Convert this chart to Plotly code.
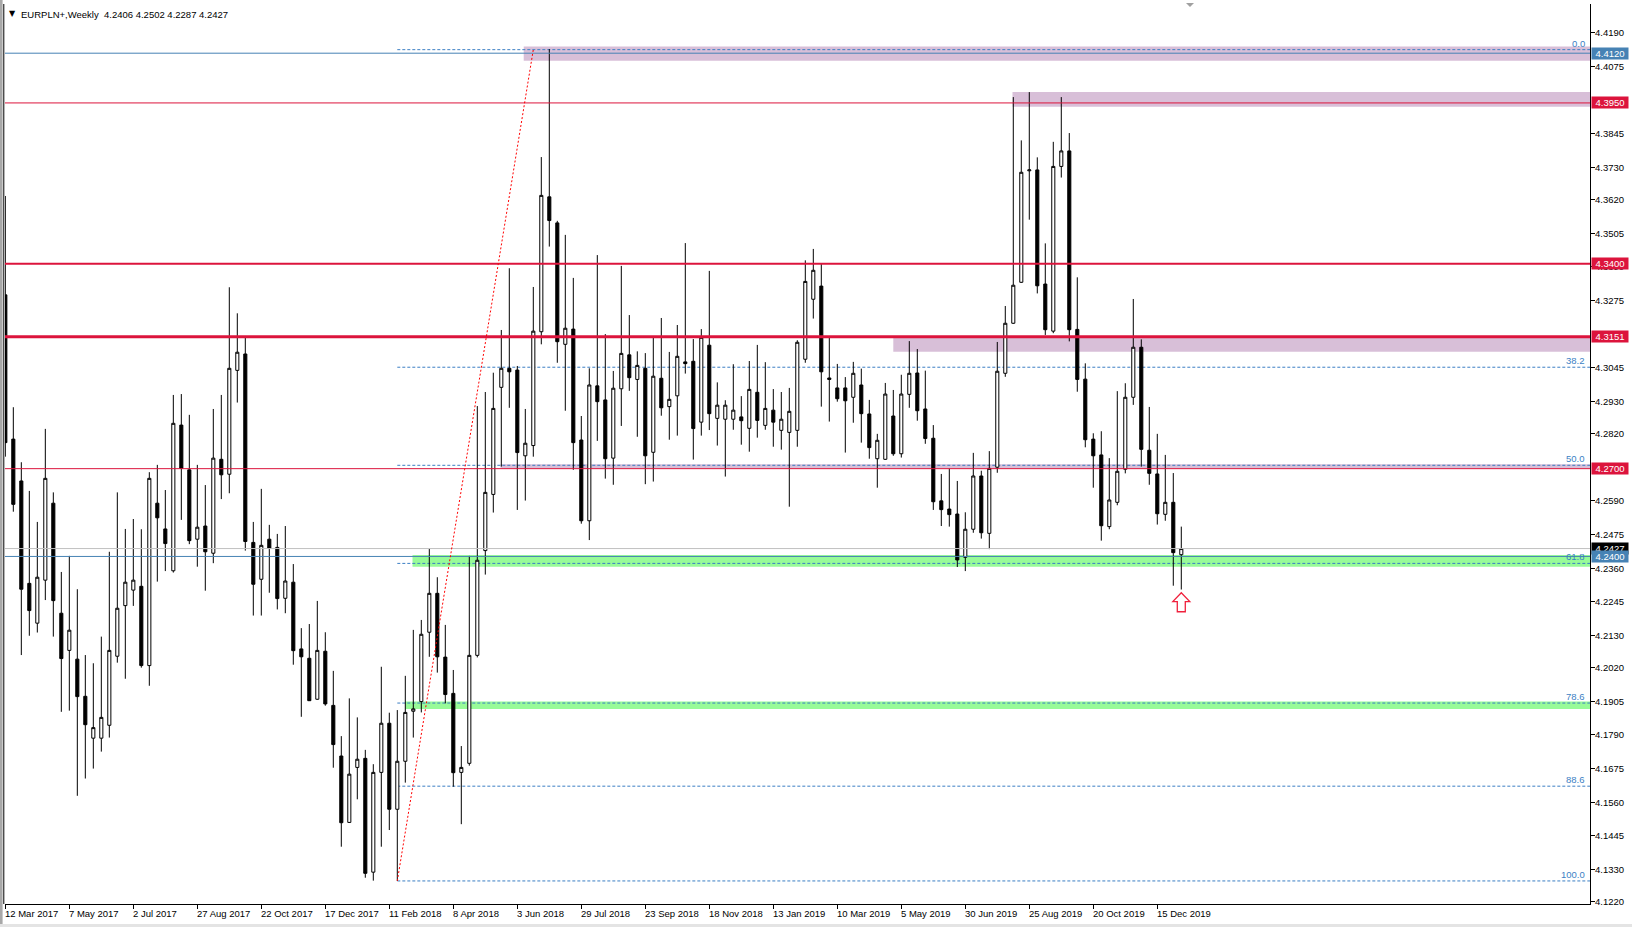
import plotly.graph_objects as go
import pandas as pd

# ---------------- data ----------------
symbol_title = "EURPLN+,Weekly"
title_ohlc = "4.2406 4.2502 4.2287 4.2427"
start_date = "2017-03-12"

opens = [
    4.3294, 4.2801, 4.2658, 4.2308, 4.2172, 4.2319, 4.2582, 4.2206, 4.2079, 4.2049,
    4.1922, 4.1779, 4.1779, 4.1823, 4.2059, 4.2232, 4.2285, 4.2298, 4.2027, 4.2582,
    4.2494, 4.2351, 4.2849, 4.2696, 4.2459, 4.2504, 4.2411, 4.2732, 4.2681, 4.3036,
    4.3092, 4.2448, 4.2322, 4.2459, 4.2431, 4.2257, 4.2312, 4.2084, 4.2052, 4.1912,
    4.2076, 4.1891, 4.1718, 4.1491, 4.1679, 4.1710, 4.1321, 4.1662, 4.1830, 4.1536,
    4.1700, 4.1871, 4.1904, 4.2141, 4.2274, 4.2056, 4.1932, 4.1662, 4.1693, 4.2062,
    4.2420, 4.2612, 4.2978, 4.3043, 4.3037, 4.2744, 4.2779, 4.3168, 4.3629, 4.3540,
    4.3125, 4.3177, 4.2798, 4.2522, 4.2983, 4.2935, 4.2736, 4.2973, 4.3089, 4.3005,
    4.3043, 4.2756, 4.3009, 4.2912, 4.2949, 4.3065, 4.3067, 4.2859, 4.3122, 4.2872,
    4.2869, 4.2869, 4.2877, 4.2838, 4.2961, 4.2848, 4.2900, 4.2831, 4.2824, 4.2831,
    4.3074, 4.3279, 4.3324, 4.3010, 4.2976, 4.2976, 4.2944, 4.2986, 4.2887, 4.2734,
    4.2732, 4.2880, 4.2751, 4.2954, 4.3027, 4.2904, 4.2804, 4.2590, 4.2562, 4.2545,
    4.2397, 4.2493, 4.2675, 4.2479, 4.2705, 4.3026, 4.3197, 4.3337, 4.3718, 4.3721,
    4.3331, 4.3170, 4.3733, 4.3786, 4.3176, 4.3006, 4.2801, 4.2747, 4.2502, 4.2585,
    4.2698, 4.2944, 4.3115, 4.2763, 4.2682, 4.2544, 4.2585, 4.2406]
highs = [
    4.3632, 4.2910, 4.2722, 4.2624, 4.2518, 4.2836, 4.2619, 4.2347, 4.2402, 4.2288,
    4.2063, 4.2035, 4.2126, 4.2416, 4.2619, 4.2494, 4.2528, 4.2493, 4.2688, 4.2713,
    4.2627, 4.2952, 4.2955, 4.2884, 4.2713, 4.2644, 4.2904, 4.2952, 4.3320, 4.3231,
    4.3149, 4.2518, 4.2631, 4.2508, 4.2477, 4.2504, 4.2374, 4.2155, 4.2169, 4.2248,
    4.2141, 4.2009, 4.1786, 4.1915, 4.1850, 4.1739, 4.1690, 4.2023, 4.1866, 4.1875,
    4.1992, 4.2149, 4.2183, 4.2426, 4.2329, 4.2166, 4.2012, 4.1752, 4.2402, 4.2914,
    4.2962, 4.3028, 4.3174, 4.3385, 4.3051, 4.2904, 4.3321, 4.3765, 4.4134, 4.3547,
    4.3499, 4.3352, 4.2880, 4.3043, 4.3430, 4.3160, 4.3034, 4.3393, 4.3225, 4.3101,
    4.3095, 4.3148, 4.3215, 4.3099, 4.3191, 4.3471, 4.3143, 4.3177, 4.3376, 4.2995,
    4.2934, 4.3057, 4.2948, 4.3068, 4.3123, 4.3064, 4.2972, 4.2962, 4.2976, 4.3139,
    4.3412, 4.3451, 4.3401, 4.3148, 4.3058, 4.3013, 4.3065, 4.3042, 4.2935, 4.2819,
    4.2993, 4.2969, 4.3021, 4.3136, 4.3109, 4.3035, 4.2849, 4.2682, 4.2700, 4.2658,
    4.2551, 4.2754, 4.2693, 4.2760, 4.3133, 4.3256, 4.3970, 4.3822, 4.3987, 4.3764,
    4.3470, 4.3817, 4.3970, 4.3847, 4.3354, 4.3060, 4.2821, 4.2828, 4.2736, 4.2965,
    4.2992, 4.3280, 4.3142, 4.2911, 4.2819, 4.2747, 4.2685, 4.2502]
lows = [
    4.2741, 4.2553, 4.2063, 4.2129, 4.2140, 4.2251, 4.2126, 4.1869, 4.1873, 4.1582,
    4.1641, 4.1675, 4.1733, 4.1781, 4.2037, 4.1982, 4.2231, 4.2020, 4.1958, 4.2314,
    4.2350, 4.2345, 4.2525, 4.2442, 4.2365, 4.2283, 4.2377, 4.2596, 4.2616, 4.2926,
    4.2420, 4.2198, 4.2198, 4.2276, 4.2219, 4.2206, 4.2030, 4.1852, 4.1906, 4.1910,
    4.1890, 4.1678, 4.1408, 4.1489, 4.1570, 4.1302, 4.1292, 4.1408, 4.1465, 4.1291,
    4.1627, 4.1781, 4.1867, 4.2057, 4.2003, 4.1898, 4.1613, 4.1485, 4.1685, 4.2055,
    4.2338, 4.2550, 4.2707, 4.2908, 4.2559, 4.2591, 4.2741, 4.3125, 4.3459, 4.3062,
    4.2898, 4.2696, 4.2512, 4.2456, 4.2795, 4.2666, 4.2645, 4.2846, 4.2966, 4.2809,
    4.2647, 4.2656, 4.2881, 4.2799, 4.2813, 4.3025, 4.2731, 4.2813, 4.2832, 4.2779,
    4.2673, 4.2833, 4.2782, 4.2758, 4.2806, 4.2833, 4.2775, 4.2765, 4.2570, 4.2775,
    4.3062, 4.3213, 4.2912, 4.2861, 4.2929, 4.2755, 4.2857, 4.2789, 4.2734, 4.2635,
    4.2730, 4.2744, 4.2738, 4.2908, 4.2864, 4.2785, 4.2559, 4.2504, 4.2502, 4.2364,
    4.2350, 4.2481, 4.2461, 4.2425, 4.2686, 4.3014, 4.3195, 4.3335, 4.3551, 4.3299,
    4.3157, 4.3163, 4.3695, 4.3135, 4.2963, 4.2773, 4.2635, 4.2454, 4.2493, 4.2575,
    4.2684, 4.2918, 4.2707, 4.2645, 4.2509, 4.2522, 4.2300, 4.2287]
closes = [
    4.2789, 4.2578, 4.2288, 4.2215, 4.2329, 4.2667, 4.2249, 4.2051, 4.2148, 4.1921,
    4.1825, 4.1815, 4.1850, 4.2079, 4.2223, 4.2312, 4.2319, 4.2027, 4.2667, 4.2532,
    4.2444, 4.2855, 4.2701, 4.2454, 4.2500, 4.2416, 4.2736, 4.2679, 4.3043, 4.3098,
    4.2451, 4.2305, 4.2438, 4.2428, 4.2256, 4.2316, 4.2078, 4.2057, 4.1907, 4.2079,
    4.1896, 4.1757, 4.1490, 4.1656, 4.1707, 4.1317, 4.1662, 4.1830, 4.1536, 4.1700,
    4.1867, 4.1879, 4.2134, 4.2274, 4.2057, 4.1928, 4.1661, 4.1679, 4.2062, 4.2387,
    4.2619, 4.2906, 4.3043, 4.3031, 4.2755, 4.2787, 4.3170, 4.3634, 4.3548, 4.3134,
    4.3180, 4.2789, 4.2522, 4.2986, 4.2929, 4.2734, 4.2975, 4.3094, 4.3011, 4.3053,
    4.2744, 4.3016, 4.2908, 4.2937, 4.3084, 4.3059, 4.2837, 4.3149, 4.2888, 4.2917,
    4.2917, 4.2900, 4.2864, 4.2971, 4.2865, 4.2906, 4.2859, 4.2869, 4.2896, 4.3132,
    4.3340, 4.3378, 4.3031, 4.3005, 4.2939, 4.2932, 4.3026, 4.2888, 4.2772, 4.2797,
    4.2955, 4.2751, 4.2955, 4.3026, 4.2898, 4.2803, 4.2587, 4.2560, 4.2543, 4.2388,
    4.2493, 4.2675, 4.2481, 4.2701, 4.3033, 4.3197, 4.3327, 4.3713, 4.3721, 4.3325,
    4.3175, 4.3733, 4.3786, 4.3175, 4.3005, 4.2799, 4.2744, 4.2505, 4.2593, 4.2691,
    4.2944, 4.3115, 4.2766, 4.2684, 4.2546, 4.2585, 4.2413, 4.2427]

# price-axis tick labels
ytick_vals = [4.4190, 4.4075, 4.3845, 4.3730, 4.3620, 4.3505, 4.3390, 4.3275,
              4.3045, 4.2930, 4.2820, 4.2590, 4.2475, 4.2360, 4.2245, 4.2130,
              4.2020, 4.1905, 4.1790, 4.1675, 4.1560, 4.1445, 4.1330, 4.1220]

# horizontal levels: (price, colour, width)
level_lines = [
    (4.4120, "#4682B4", 1),
    (4.3950, "#DC143C", 1),
    (4.3400, "#DC143C", 2),
    (4.3151, "#DC143C", 3),
    (4.2700, "#DC143C", 1),
    (4.2427, "#C0C0C0", 1),
    (4.2400, "#4682B4", 1),
]
# coloured price labels on the axis: (price, background)
price_tags = [
    (4.4120, "#4682B4"), (4.3950, "#DC143C"), (4.3400, "#DC143C"),
    (4.3151, "#DC143C"), (4.2700, "#DC143C"), (4.2427, "#000000"),
    (4.2400, "#4682B4"),
]
# zones: (start week, low, high)
purple_zones = [(64.8, 4.4094, 4.4143), (125.9, 4.3937, 4.3987),
                (111.0, 4.3100, 4.3153), (61.9, 4.2701, 4.2715)]
green_zones = [(50.9, 4.2365, 4.2405), (50.0, 4.1879, 4.1904)]

# fibonacci retracement
fib_start_week, fib_low = 49, 4.1291
fib_end_week, fib_high = 66, 4.4132
fib_levels = [0.0, 38.2, 50.0, 61.8, 78.6, 88.6, 100.0]

# up-arrow marker
arrow_week, arrow_tip, arrow_base = 147, 4.2276, 4.2211

assert all(len(a) == 148 for a in (opens, highs, lows, closes))

# ---------------- figure ----------------
n = len(opens)
dates = pd.date_range(start_date, periods=n, freq="7D")
week_idx = list(range(n))
date_ticks = week_idx[::8]
date_labels = [f"{d.day} {d.strftime('%b %Y')}" for d in dates[::8]]

FONT = "Liberation Sans, Arial, sans-serif"
FS = 9.5
FIB_COL = "#3C7FC4"

fig = go.Figure()
fig.add_trace(go.Candlestick(
    x=week_idx, open=opens, high=highs, low=lows, close=closes,
    increasing=dict(line=dict(color="black", width=1), fillcolor="white"),
    decreasing=dict(line=dict(color="black", width=1), fillcolor="black"),
    whiskerwidth=0, hoverinfo="skip", showlegend=False,
))

shapes = []
X_END = 205
for x0, lo, hi in purple_zones:
    shapes.append(dict(type="rect", xref="x", yref="y", x0=x0, x1=X_END, y0=lo, y1=hi,
                       fillcolor="#D8BFD8", line=dict(width=0), layer="below"))
for x0, lo, hi in green_zones:
    shapes.append(dict(type="rect", xref="x", yref="y", x0=x0, x1=X_END, y0=lo, y1=hi,
                       fillcolor="#98FB98", line=dict(width=0), layer="below"))
for lv in fib_levels:
    p = fib_high - lv / 100.0 * (fib_high - fib_low)
    shapes.append(dict(type="line", xref="x", yref="y", x0=fib_start_week, x1=X_END,
                       y0=p, y1=p, line=dict(color=FIB_COL, width=1, dash="3px,2px"),
                       layer="below"))
for p, col, w in level_lines:
    shapes.append(dict(type="line", xref="paper", yref="y", x0=0, x1=1, y0=p, y1=p,
                       line=dict(color=col, width=w), layer="above"))
# fib trend line
shapes.append(dict(type="line", xref="x", yref="y", x0=fib_start_week, y0=fib_low,
                   x1=fib_end_week, y1=fib_high,
                   line=dict(color="#FF0000", width=1, dash="2px,2px"), layer="above"))
# arrow marker
h = arrow_tip - arrow_base
hb = arrow_tip - 0.47 * h
aw = arrow_week
path = (f"M {aw},{arrow_tip} L {aw+1.06},{hb} L {aw+0.5},{hb} L {aw+0.5},{arrow_base} "
        f"L {aw-0.5},{arrow_base} L {aw-0.5},{hb} L {aw-1.06},{hb} Z")
shapes.append(dict(type="path", xref="x", yref="y", path=path, fillcolor="white",
                   line=dict(color="#F0203C", width=1.3), layer="above"))
# window frame bits
shapes.append(dict(type="rect", xref="paper", yref="paper", x0=-5/1585, x1=-2.4/1585,
                   y0=-23/900, y1=1+4/900, fillcolor="#A8A8A8", line=dict(width=0)))
shapes.append(dict(type="line", xref="paper", yref="paper", x0=-1.2/1585, x1=-1.2/1585,
                   y0=0, y1=1, line=dict(color="#000000", width=1)))
shapes.append(dict(type="rect", xref="paper", yref="paper", x0=-5/1585, x1=1+42/1585,
                   y0=-23/900, y1=-20/900, fillcolor="#E4E4E4", line=dict(width=0)))
# chart-shift marker at the top
mx = (1190 - 5) / 1585
shapes.append(dict(type="path", xref="paper", yref="paper",
                   path=f"M {mx-4/1585},{1+1/900} L {mx+4/1585},{1+1/900} L {mx},{1-3/900} Z",
                   fillcolor="#A0A0A0", line=dict(width=0)))

annotations = []
# title
annotations.append(dict(xref="paper", yref="paper", x=0, y=1, xshift=7, yshift=-3,
                        xanchor="center", yanchor="top", text="▼", showarrow=False,
                        font=dict(family="DejaVu Sans", size=8, color="black")))
annotations.append(dict(xref="paper", yref="paper", x=0, y=1, xshift=14, yshift=-3,
                        xanchor="left", yanchor="top",
                        text=symbol_title + "\u00a0\u00a0" + title_ohlc, showarrow=False,
                        font=dict(family=FONT, size=FS, color="black")))
# date labels
for k, lab in zip(date_ticks, date_labels):
    annotations.append(dict(xref="x", yref="paper", x=k, y=0, xshift=-2, yshift=-2,
                            xanchor="left", yanchor="top", text=lab, showarrow=False,
                            font=dict(family=FONT, size=FS, color="black")))
# price-axis labels
for v in ytick_vals:
    annotations.append(dict(xref="paper", yref="y", x=1, y=v, xshift=3.5,
                            xanchor="left", yanchor="middle", text=f"{v:.4f}",
                            showarrow=False, borderpad=0,
                            font=dict(family=FONT, size=FS, color="black")))
# fib labels
for lv in fib_levels:
    p = fib_high - lv / 100.0 * (fib_high - fib_low)
    annotations.append(dict(xref="paper", yref="y", x=1, y=p, xshift=-3, yshift=-1,
                            xanchor="right", yanchor="bottom", text=f"{lv:.1f}",
                            showarrow=False, font=dict(family=FONT, size=FS, color=FIB_COL)))
# price tags on the axis
for p, bg in price_tags:
    annotations.append(dict(xref="paper", yref="y", x=1, y=p, xshift=0.7,
                            xanchor="left", yanchor="middle", text=f"{p:.4f}",
                            showarrow=False, bgcolor=bg, width=36, height=11,
                            borderpad=0, align="center",
                            font=dict(family=FONT, size=FS, color="white")))

fig.update_layout(
    width=1632, height=927,
    margin=dict(l=5, r=42, t=4, b=23, pad=0),
    paper_bgcolor="white", plot_bgcolor="white",
    showlegend=False, hovermode=False, boxgap=0.45,
    font=dict(family=FONT, size=FS, color="black"),
    xaxis=dict(range=[-0.04, 198.09], showgrid=False, zeroline=False,
               rangeslider=dict(visible=False), tickmode="array", tickvals=date_ticks,
               showticklabels=False, ticks="outside", ticklen=4, tickcolor="black",
               showline=True, linecolor="black", linewidth=1),
    yaxis=dict(range=[4.12122, 4.42881], side="right", showgrid=False, zeroline=False,
               tickmode="array", tickvals=ytick_vals, showticklabels=False,
               ticks="outside", ticklen=4, tickcolor="black",
               showline=True, linecolor="black", linewidth=1),
    shapes=shapes, annotations=annotations,
)

fig.write_html("out.html", include_plotlyjs=True, full_html=True,
               config={"displayModeBar": False, "staticPlot": True},
               post_script="document.body.style.margin='0';document.body.style.overflow='hidden';")
